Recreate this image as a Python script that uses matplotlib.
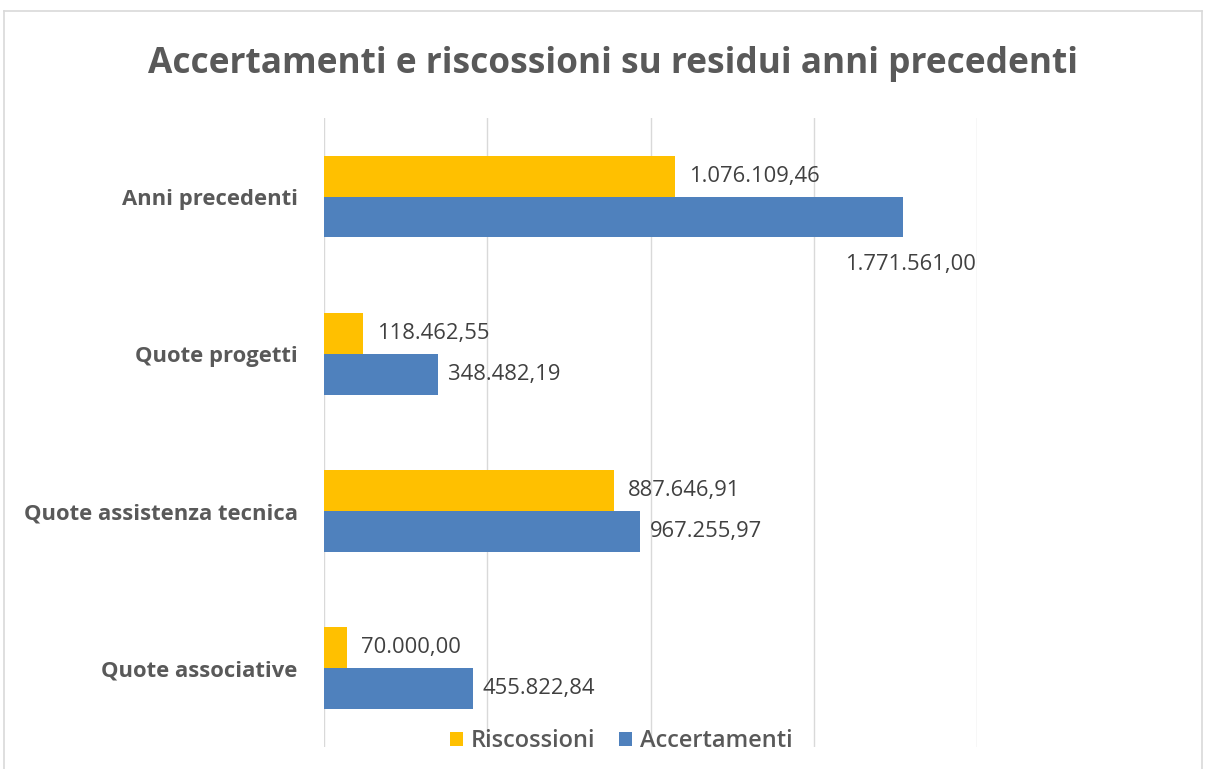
import matplotlib
matplotlib.use("Agg")
from matplotlib import pyplot as plt
from matplotlib.lines import Line2D

# dati del grafico
categorie = ["Anni precedenti", "Quote progetti", "Quote assistenza tecnica", "Quote associative"]
riscossioni = [1076109.46, 118462.55, 887646.91, 70000.00]
accertamenti = [1771561.00, 348482.19, 967255.97, 455822.84]
serie = ["Riscossioni", "Accertamenti"]
colori = ["#FFC000", "#4F81BD"]

def formato_it(v):
	s = "{:,.2f}".format(v)
	return s.replace(",", "X").replace(".", ",").replace("X", ".")

plt.rcParams['font.family'] = ['Open Sans', 'DejaVu Sans']

fig = plt.figure(figsize=(12.06, 7.69), dpi=100)
ax = fig.add_axes([0.2687, 0.0286, 0.5415, 0.818])

h = 0.26 #altezza di ogni barra
pos = list(range(len(categorie)))
ax.barh([p - h/2 for p in pos], riscossioni, height=h, color=colori[0], label=serie[0])
ax.barh([p + h/2 for p in pos], accertamenti, height=h, color=colori[1], label=serie[1])

ax.set_xlim(0, 2000000)
ax.set_ylim(len(categorie) - 0.5, -0.5)
ax.set_xticks([0, 500000, 1000000, 1500000, 2000000])
ax.set_xticklabels([])
ax.tick_params(axis='x', length=0)
ax.tick_params(axis='y', length=0, pad=19)
ax.set_yticks(pos)
ax.set_yticklabels(categorie, fontsize=15.8, fontweight='bold', color='#595959')
ax.grid(axis='x', color='#D9D9D9', linewidth=1)
ax.set_axisbelow(True)
for s in ax.spines.values():
	s.set_visible(False)

#etichette dei valori
for i, v in enumerate(riscossioni):
	ax.annotate(formato_it(v), (v, i - h/2), xytext=(10, 0), textcoords='offset points',
		va='center', ha='left', fontsize=15.8, color='#404040')
for i, v in enumerate(accertamenti):
	if v > 1500000:
		ax.annotate(formato_it(v), (2000000, i + h/2), xytext=(-1, -34), textcoords='offset points',
			va='center', ha='right', fontsize=15.8, color='#404040')
	else:
		ax.annotate(formato_it(v), (v, i + h/2), xytext=(7, 0), textcoords='offset points',
			va='center', ha='left', fontsize=15.8, color='#404040')

fig.suptitle("Accertamenti e riscossioni su residui anni precedenti", x=0.508, y=0.94,
	fontsize=25.4, fontweight='bold', color='#595959')

leg = ax.legend(loc='lower center', bbox_to_anchor=(0.455, -0.044), ncol=2, frameon=False,
	prop={'size': 17, 'weight': 'semibold'}, handlelength=0.55, handleheight=0.55,
	handletextpad=0.35, columnspacing=1.0, labelcolor='#595959')

#bordo del grafico
for xs, ys in [([0.003, 0.997], [0.986, 0.986]), ([0.003, 0.003], [0.0, 0.986]), ([0.997, 0.997], [0.0, 0.986])]:
	fig.add_artist(Line2D(xs, ys, color='#D9D9D9', linewidth=1.2, transform=fig.transFigure))

fig.savefig("out.png", dpi=100, facecolor='white')
